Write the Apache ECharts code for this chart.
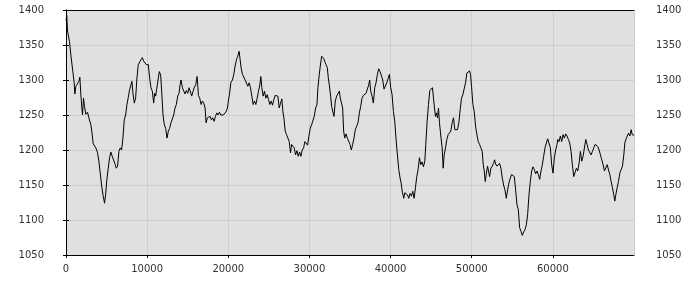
<!DOCTYPE html>
<html>
<head>
<meta charset="utf-8">
<script src="https://cdn.jsdelivr.net/npm/echarts@6/dist/echarts.min.js"></script>
<style>html,body{margin:0;padding:0;background:#fff}#c{width:700px;height:300px}</style>
</head>
<body>
<div id="c"></div>
<script>
var xValues = [0,100,185,432,596,843,1008,1090,1214,1419,1584,1707,1831,1954,2037,2160,2283,2448,2654,2819,3065,3230,3353,3518,3683,3888,4053,4218,4423,4588,4752,4876,5041,5205,5370,5534,5699,5864,6069,6193,6357,6522,6687,6851,7016,7180,7345,7510,7674,7839,8003,8127,8250,8415,8579,8744,8909,9073,9238,9403,9567,9732,9897,
9980,10144,10309,10473,10638,10803,10926,11050,11214,11379,11502,11667,11790,11955,12119,12284,12449,12613,12778,12942,13107,13272,13436,13601,13765,13930,14053,14177,14342,14506,14671,14835,15000,15165,15329,15494,15658,15823,15988,16152,16234,16317,16481,16646,16811,16975,17140,17263,17428,17592,17757,17922,18086,18251,18415,18580,18745,18909,19074,19238,19403,19568,19732,19897,20061,
20144,20308,20514,20679,20843,21008,21172,21337,21461,21584,21749,21913,22078,22242,22407,22572,22736,22901,23065,23230,23395,23559,23724,23888,24012,24135,24300,24465,24629,24794,24958,25123,25288,25452,25617,25781,25946,26111,26275,26440,26604,26728,26851,27016,27180,27345,27510,27674,27798,27962,28127,28291,28456,28621,28785,28950,29114,29279,29444,29608,29773,29937,30102,
30268,30432,30597,30762,30926,31050,31214,31338,31502,31626,31749,31873,32037,32202,32325,32449,32613,32737,32901,33025,33189,33354,33519,33683,33807,33971,34095,34218,34342,34506,34671,34835,35000,35165,35329,35494,35658,35823,35988,36152,36317,36481,36646,36811,36975,37140,37304,37428,37551,37716,37880,38045,38210,38374,38539,38703,38868,39033,39197,39362,39527,39691,39856,40020,40185,40350,
40514,40679,40843,41008,41173,41296,41461,41625,41749,41913,42078,42243,42407,42572,42736,42901,43066,43230,43395,43559,43724,43889,44053,44218,44341,44506,44670,44835,45000,45164,45288,45411,45535,45658,45781,45905,46028,46193,46358,46481,46604,46769,46934,47098,47263,47427,47592,47757,47921,48086,48250,48415,48580,48744,48909,49073,49238,49403,49567,49732,49856,49979,50144,50308,50473,
50638,50803,50967,51132,51297,51420,51544,51667,51790,51955,52078,52202,52367,52531,52696,52819,52943,53107,53272,53436,53601,53766,53930,54095,54259,54424,54589,54753,54918,55082,55247,55412,55576,55741,55905,56070,56235,56399,56564,56729,56893,57058,57222,57387,57552,57716,57881,58045,58210,58375,58539,58704,58868,59033,59198,59362,59527,59691,59856,60021,60185,60350,60514,
60597,60761,60926,61090,61255,61420,61584,61749,61913,62078,62243,62407,62572,62736,62901,63066,63230,63395,63559,63724,63889,64053,64218,64382,64547,64712,64876,65041,65206,65370,65535,65700,65864,66029,66193,66358,66523,66687,66852,67016,67181,67346,67510,67634,67757,67922,68086,68251,68415,68580,68744,68868,68991,69156,69320,69485,69650,69773,69896,70000];

var yValues = [1385,1392,1370,1355,1336,1312,1296,1280,1291,1290,1298,1304,1279,1260,1250,1274,1262,1251,1254,1246,1236,1222,1209,1210,1203,1196,1184,1167,1146,1134,1124,1136,1158,1174,1189,1197,1191,1193,1179,1174,1177,1198,1203,1200,1217,1243,1250,1265,1275,1286,1284,1298,1281,1267,1274,1303,1322,1324,1329,1332,1327,1329,1322,
1324,1322,1303,1289,1284,1267,1281,1277,1279,1303,1312,1307,1284,1250,1236,1231,1217,1227,1231,1239,1239,1250,1260,1265,1277,1281,1293,1300,1289,1291,1280,1285,1281,1289,1287,1277,1284,1290,1293,1305,1293,1278,1274,1265,1270,1267,1260,1239,1246,1245,1248,1243,1246,1241,1248,1253,1250,1254,1250,1251,1250,1251,1255,1260,1274,
1279,1296,1300,1308,1320,1329,1334,1341,1339,1317,1308,1310,1300,1298,1291,1296,1289,1277,1265,1270,1265,1274,1284,1293,1305,1289,1277,1284,1274,1279,1272,1265,1270,1264,1272,1278,1279,1277,1260,1267,1273,1255,1246,1227,1222,1223,1212,1196,1208,1209,1203,1193,1199,1191,1197,1191,1200,1203,1212,1213,1207,1220,1231,
1236,1235,1248,1260,1265,1289,1308,1320,1334,1336,1331,1327,1322,1318,1303,1293,1277,1262,1260,1248,1270,1277,1279,1284,1274,1272,1260,1227,1217,1223,1217,1215,1208,1200,1208,1217,1229,1234,1239,1253,1262,1274,1278,1280,1281,1287,1293,1300,1284,1277,1267,1289,1296,1308,1316,1312,1310,1300,1287,1289,1296,1302,1308,1289,1279,1255,
1241,1215,1193,1172,1160,1153,1139,1131,1139,1140,1136,1131,1138,1134,1141,1131,1146,1162,1172,1189,1179,1183,1176,1184,1208,1241,1265,1285,1287,1289,1274,1260,1248,1253,1246,1260,1239,1220,1203,1174,1193,1203,1215,1222,1220,1227,1239,1246,1229,1231,1229,1239,1258,1274,1279,1281,1296,1310,1312,1313,1308,1291,1265,1255,1234,
1222,1212,1208,1203,1198,1179,1170,1155,1165,1177,1179,1162,1174,1177,1181,1186,1180,1177,1179,1181,1174,1160,1150,1143,1131,1143,1153,1160,1165,1167,1162,1143,1122,1115,1089,1084,1078,1083,1086,1093,1108,1136,1155,1170,1176,1172,1166,1170,1165,1158,1170,1179,1191,1203,1210,1216,1215,1203,1179,1167,1189,1200,1208,
1215,1212,1220,1212,1222,1217,1223,1220,1215,1210,1198,1179,1162,1160,1174,1170,1181,1198,1184,1191,1189,1215,1208,1200,1200,1193,1198,1203,1208,1207,1205,1200,1193,1186,1179,1170,1172,1179,1181,1165,1155,1146,1136,1127,1136,1146,1155,1167,1172,1177,1193,1210,1215,1217,1224,1220,1229,1222,1221,1221];

var xTicks = { min: 0, max: 70000, interval: 10000 };
var yTicks = { min: 1050, max: 1400, interval: 50 };

var points = xValues.map(function (x, i) { return [x, yValues[i]]; });

var labelStyle = { color: '#333', fontFamily: 'DejaVu Sans', fontSize: 10, formatter: function (v) { return String(v); } };
function yAxis(pos) {
  var left = pos === 'left';
  return {
    type: 'value', position: pos, min: yTicks.min, max: yTicks.max, interval: yTicks.interval,
    axisLine: { show: true, lineStyle: { color: '#000', width: 1 } },
    axisTick: { show: true, length: 3, lineStyle: { color: '#000' } },
    axisLabel: Object.assign({ margin: 22 }, labelStyle),
    splitLine: { show: left, lineStyle: { color: '#cdcdcd', width: 1 } },
    splitArea: { show: left, areaStyle: { color: ['#e0e0e0', '#e0e0e0'] } }
  };
}
var chart = echarts.init(document.getElementById('c'), null, { renderer: 'canvas' });
chart.setOption({
  animation: false,
  backgroundColor: '#ffffff',
  grid: { left: 66, right: 66, top: 10, bottom: 45 },
  xAxis: [{
    type: 'value', min: xTicks.min, max: xTicks.max, interval: xTicks.interval, position: 'bottom',
    axisLine: { show: true, onZero: false, lineStyle: { color: '#000', width: 1 } },
    axisTick: { show: true, length: 3, lineStyle: { color: '#000' } },
    axisLabel: Object.assign({ margin: 9, showMaxLabel: false }, labelStyle),
    splitLine: { show: true, lineStyle: { color: '#cdcdcd', width: 1 } }
  }, {
    type: 'value', min: xTicks.min, max: xTicks.max, interval: xTicks.interval, position: 'top',
    axisLine: { show: true, onZero: false, lineStyle: { color: '#000', width: 1 } },
    axisTick: { show: false }, axisLabel: { show: false }, splitLine: { show: false }
  }],
  yAxis: [yAxis('left'), yAxis('right')],
  series: [{
    type: 'line', data: points, xAxisIndex: 0, yAxisIndex: 0, showSymbol: false, symbol: 'none',
    lineStyle: { color: '#000', width: 1 }, itemStyle: { color: '#000' }
  }]
});
</script>
</body>
</html>
